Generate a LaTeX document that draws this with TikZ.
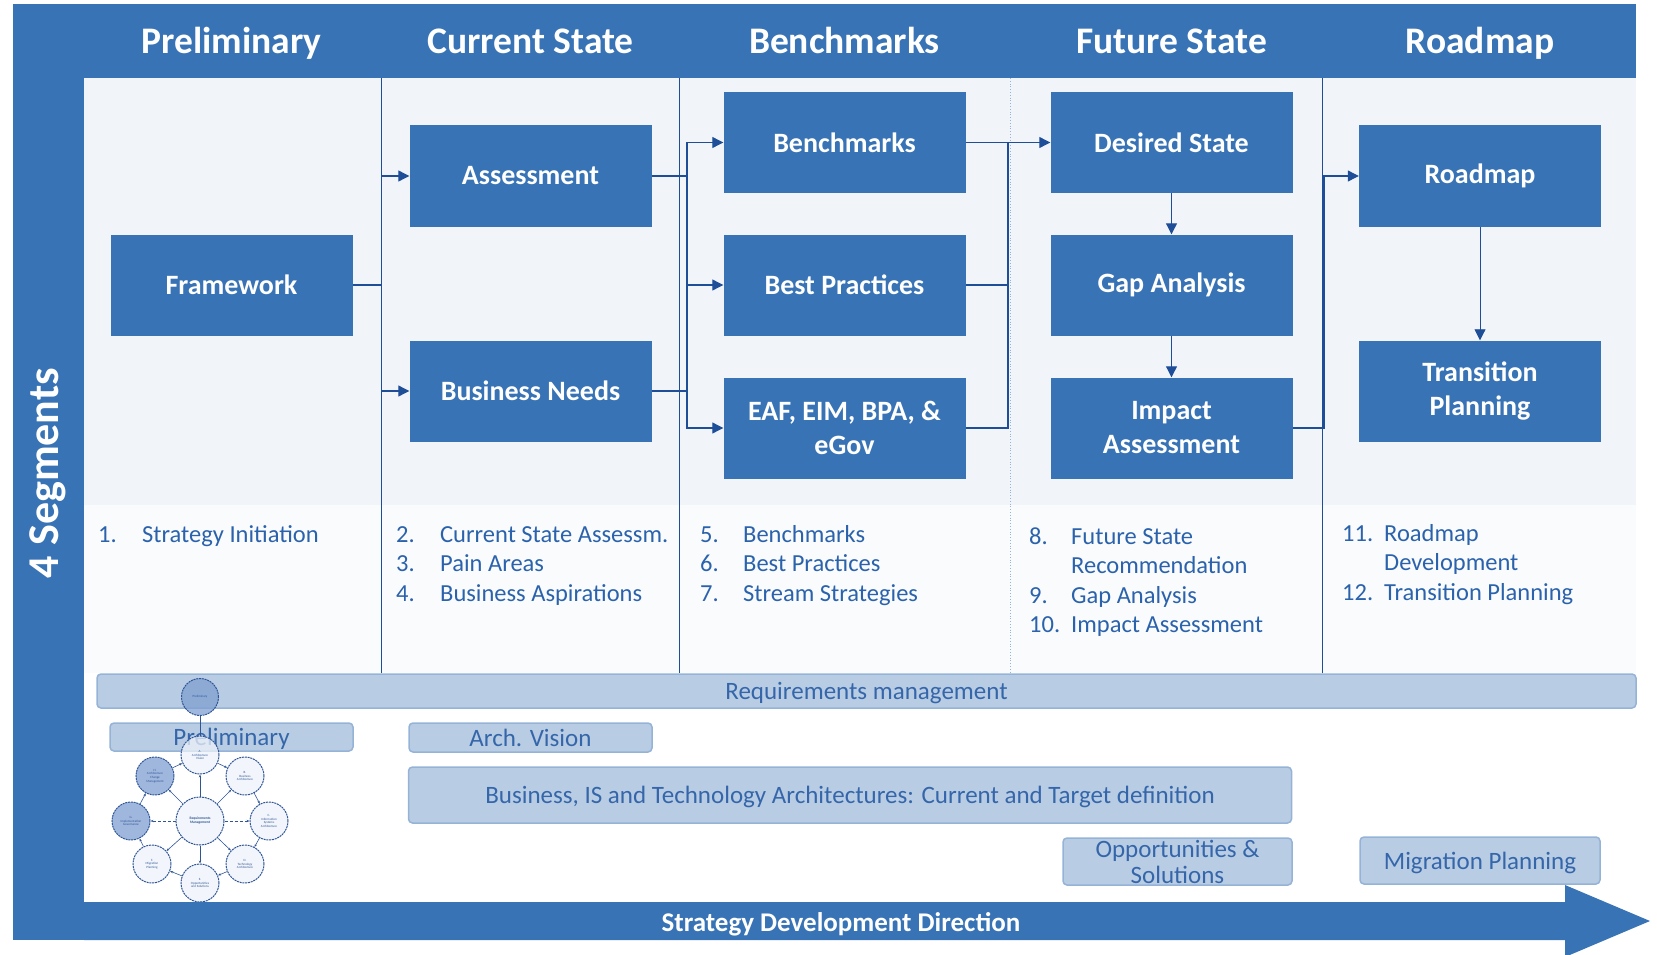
\documentclass[tikz,border=0pt]{standalone}
\usepackage{fontspec}
\setmainfont{Carlito}
\usepackage{xcolor}
\usetikzlibrary{positioning,arrows.meta,calc}

\definecolor{segblue}{HTML}{3873B5}
\definecolor{paneblue}{HTML}{F1F5FA}
\definecolor{panelow}{HTML}{FAFBFD}
\definecolor{linenavy}{HTML}{1F4E99}
\definecolor{barfill}{HTML}{B8CCE4}
\definecolor{barline}{HTML}{95B3D7}
\definecolor{listblue}{HTML}{2A62AC}
\definecolor{bartext}{HTML}{3566AA}
\definecolor{ringfill}{HTML}{EDF2F9}
\definecolor{ringdark}{HTML}{7F9FD1}
\definecolor{ringline}{HTML}{2F5597}

\begin{document}
\begin{tikzpicture}[
  x=1pt, y=-1pt,
  stage/.style={rectangle, fill=segblue, text=white, minimum width=242pt, minimum height=101pt, align=center, inner sep=2pt, font=\fontsize{28}{34}\selectfont\bfseries},
  head/.style={anchor=base, text=white, font=\fontsize{37.5}{40}\selectfont\bfseries},
  conn/.style={draw=linenavy, line width=1.1pt},
  arr/.style={conn, -{Triangle[length=11pt,width=11pt]}},
  steps/.style={anchor=base west, inner sep=0pt, text=listblue, font=\fontsize{24.5}{29.5}\selectfont},
  phase/.style={rectangle, rounded corners=4pt, fill=barfill, draw=barline, line width=1.5pt, text=bartext, align=center, inner sep=0pt, font=\fontsize{25}{26}\selectfont},
  flat/.style={text depth=0pt},
  adm/.style={circle, draw=ringline, dash pattern=on 2pt off 0.8pt, line width=1pt, fill=ringfill, fill opacity=0.75, text opacity=1, minimum size=38pt, inner sep=0pt, align=center, text=ringline, font=\fontsize{3.2}{3.6}\selectfont},
  admarr/.style={ringline, line width=0.6pt, -{Stealth[length=3pt]}}
]
\useasboundingbox (0,0) rectangle (1657,955);

% Frame and panes
\fill[segblue] (13,4) rectangle (1636,78);
\fill[segblue] (13,4) rectangle (84,940);
\fill[paneblue] (84,78) rectangle (1636,505);
\fill[panelow] (84,505) rectangle (1636,673);
\node[rotate=90, text=white, font=\fontsize{44}{48}\selectfont\bfseries] (seg) at (48,473) {4 Segments};

% Column dividers
\draw[linenavy, line width=0.8pt] (381.5,78) -- (381.5,673);
\draw[linenavy, line width=0.8pt] (679.5,78) -- (679.5,673);
\draw[barline, line width=0.8pt, dotted] (1010,78) -- (1010,673);
\draw[linenavy, line width=0.8pt] (1322,78) -- (1322,673);

% Headers
\node[head] (hpre) at (231.5,54) {Preliminary};
\node[head] (hcur) at (530.5,54) {Current State};
\node[head] (hbench) at (844.5,54) {Benchmarks};
\node[head] (hfut) at (1171.5,54) {Future State};
\node[head] (hroad) at (1480,54) {Roadmap};

% Stage boxes
\node[stage] (fw) at (231.5,285) {Framework};
\node[stage] (asmt) at (530.5,176) {Assessment};
\node[stage] (bneed) at (530.5,391) {Business Needs};
\node[stage] (bench) at (844.5,142.5) {Benchmarks};
\node[stage] (bprac) at (844.5,285) {Best Practices};
\node[stage] (eaf) at (844.5,428) {EAF, EIM, BPA, \&\\eGov};
\node[stage] (dstate) at (1171.5,142.5) {Desired State};
\node[stage] (gap) at (1171.5,285) {Gap Analysis};
\node[stage] (impact) at (1171.5,428) {Impact\\Assessment};
\node[stage] (rmap) at (1480,176) {Roadmap};
\node[stage] (trans) at (1480,391) {Transition\\Planning};

% Connectors
\coordinate (j1) at (381.5,285);
\coordinate (j2) at (687,285);
\coordinate (j3) at (1008,285);
\coordinate (j4) at (1324,300);
\draw[conn] (fw.east) -- (j1);
\draw[arr] (j1) |- (asmt.west);
\draw[arr] (j1) |- (bneed.west);
\draw[conn] (asmt.east) -| (j2);
\draw[conn] (bneed.east) -| (j2);
\draw[arr] (j2) |- (bench.west);
\draw[arr] (j2) |- (bprac.west);
\draw[arr] (j2) |- (eaf.west);
\draw[conn] (bench.east) -| (j3);
\draw[conn] (bprac.east) -- (j3);
\draw[conn] (eaf.east) -| (j3);
\draw[arr] (j3) |- (dstate.west);
\draw[arr] (dstate) -- (gap);
\draw[arr] (gap) -- (impact);
\draw[conn] (impact.east) -| (j4);
\draw[arr] (j4) |- (rmap.west);
\draw[arr, line width=0.8pt] (rmap) -- (trans);

% Step lists
\node[steps] (l1) at (98,542) {\begin{tabular}[t]{@{}p{44pt}@{}l@{}}
  1. & Strategy Initiation
\end{tabular}};
\node[steps] (l2) at (396,542) {\begin{tabular}[t]{@{}p{44pt}@{}l@{}}
  2. & Current State Assessm.\\
  3. & Pain Areas\\
  4. & Business Aspirations
\end{tabular}};
\node[steps] (l3) at (700,542) {\begin{tabular}[t]{@{}p{43pt}@{}l@{}}
  5. & Benchmarks\\
  6. & Best Practices\\
  7. & Stream Strategies
\end{tabular}};
\node[steps] (l4) at (1029,544) {\begin{tabular}[t]{@{}p{42pt}@{}l@{}}
  8. & Future State\\
     & Recommendation\\
  9. & Gap Analysis\\
  10. & Impact Assessment
\end{tabular}};
\node[steps] (l5) at (1342,541) {\begin{tabular}[t]{@{}p{42pt}@{}l@{}}
  11. & Roadmap\\
      & Development\\
  12. & Transition Planning
\end{tabular}};

% Phase bars
\node[phase, flat, minimum width=1539pt, minimum height=34pt] (req) at (866.5,691) {Requirements management};
\node[phase, flat, minimum width=243pt, minimum height=28pt] (ppre) at (231.5,737) {Preliminary};
\node[phase, flat, minimum width=243pt, minimum height=29pt] (pvis) at (530.5,737.5) {Arch. Vision};
\node[phase, flat, minimum width=883pt, minimum height=56pt] (parch) at (850,795) {Business, IS and Technology Architectures: Current and Target definition};
\node[phase, minimum width=229pt, minimum height=47pt] (popp) at (1177.5,861.5) {Opportunities \&\\Solutions};
\node[phase, flat, minimum width=240pt, minimum height=47pt] (pmig) at (1480,860.5) {Migration Planning};

% ADM cycle
\node[adm, fill=ringdark, minimum size=37pt] (apre) at (200,697) {Preliminary};
\node[adm] (aa) at (200,755) {A.\\Architecture\\Vision};
\node[adm] (ab) at (245,776) {B.\\Business\\Architecture};
\node[adm] (ac) at (269,821) {C.\\Information\\Systems\\Architecture};
\node[adm] (ad) at (245,864) {D.\\Technology\\Architecture};
\node[adm] (ae) at (200,883) {E.\\Opportunities\\and Solutions};
\node[adm] (af) at (152,864) {F.\\Migration\\Planning};
\node[adm, fill=ringdark] (ag) at (131,821) {G.\\Implementation\\Governance};
\node[adm, fill=ringdark] (ah) at (155,776) {H.\\Architecture\\Change\\Management};
\node[adm, minimum size=48pt, font=\fontsize{3.6}{4}\selectfont\bfseries] (arm) at (200,821) {Requirements\\Management};
\draw[ringline, line width=0.6pt] (apre) -- (aa);
\foreach \p/\q in {aa/ab, ab/ac, ac/ad, ad/ae, ae/af, af/ag, ag/ah, ah/aa}
  \draw[admarr] (\p) -- (\q);
\foreach \q in {aa, ab, ad, ae, af, ah}
  \draw[admarr] (arm) -- (\q);
\foreach \q in {ac, ag}
  \draw[admarr, densely dashed] (arm) -- (\q);

% Direction arrow
\fill[segblue] (84,902) -- (1565,902) -- (1565,885) -- (1650,921) -- (1565,957) -- (1565,940) -- (84,940) -- cycle;
\node[text=white, text depth=0pt, font=\fontsize{27}{30}\selectfont\bfseries] (dir) at (841,922) {Strategy Development Direction};

\end{tikzpicture}
\end{document}
